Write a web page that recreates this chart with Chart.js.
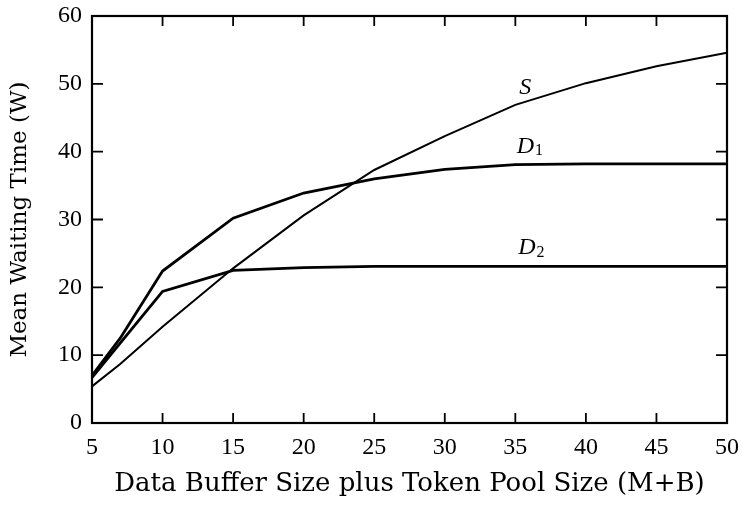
<!DOCTYPE html>
<html>
<head>
<meta charset="utf-8">
<script src="https://cdn.jsdelivr.net/npm/chart.js@4"></script>
<style>
  html, body { margin: 0; padding: 0; background: #fff; }
  #wrap { width: 742px; height: 508px; }
</style>
</head>
<body>
<div id="wrap"><canvas id="c" width="742" height="508"></canvas></div>
<script>
// ---- data ----
const sX  = [5, 7, 10, 15, 20, 25, 30, 35, 40, 45, 50];
const sY  = [5.4, 8.7, 14.2, 22.8, 30.6, 37.3, 42.3, 46.9, 50.1, 52.6, 54.6];
const d1X = [5, 7, 10, 15, 20, 25, 30, 35, 40, 45, 50];
const d1Y = [7.0, 12.5, 22.4, 30.2, 33.9, 36.0, 37.4, 38.1, 38.2, 38.2, 38.2];
const d2X = [5, 10, 15, 20, 25, 30, 35, 40, 45, 50];
const d2Y = [6.7, 19.4, 22.5, 22.9, 23.1, 23.1, 23.1, 23.1, 23.1, 23.1];
const xTicks = [5, 10, 15, 20, 25, 30, 35, 40, 45, 50];
const yTicks = [0, 10, 20, 30, 40, 50, 60];
const seriesNames = ["S", "D", "D"];
const seriesSubs  = ["", "1", "2"];
const labelX = [35.7, 36.0, 36.1];
const labelY = [49.4, 40.8, 25.8];
const xTitle = "Data Buffer Size plus Token Pool Size (M+B)";
const yTitle = "Mean Waiting Time (W)";

const pts = (xs, ys) => xs.map((x, i) => ({ x: x, y: ys[i] }));
const SERIF = "'Liberation Serif', serif";
const WIDE = "'DejaVu Serif', serif";

const framePlugin = {
  id: 'frame',
  afterDatasetsDraw(chart) {
    const ctx = chart.ctx;
    const a = chart.chartArea;
    const xs = chart.scales.x, ys = chart.scales.y;
    ctx.save();
    ctx.strokeStyle = '#000';
    ctx.lineWidth = 2.2;
    ctx.strokeRect(a.left, a.top, a.right - a.left, a.bottom - a.top);
    ctx.lineWidth = 1.8;
    ctx.beginPath();
    xTicks.forEach(v => {
      const px = xs.getPixelForValue(v);
      ctx.moveTo(px, a.bottom); ctx.lineTo(px, a.bottom - 10);
      ctx.moveTo(px, a.top); ctx.lineTo(px, a.top + 10);
    });
    yTicks.forEach(v => {
      const py = ys.getPixelForValue(v);
      ctx.moveTo(a.left, py); ctx.lineTo(a.left + 11, py);
      ctx.moveTo(a.right, py); ctx.lineTo(a.right - 11, py);
    });
    ctx.stroke();
    // series labels
    ctx.fillStyle = '#000';
    ctx.textBaseline = 'middle';
    seriesNames.forEach((n, i) => {
      const px = xs.getPixelForValue(labelX[i]);
      const py = ys.getPixelForValue(labelY[i]);
      ctx.font = "italic 24px " + SERIF;
      const w = ctx.measureText(n).width;
      let sw = 0;
      if (seriesSubs[i]) {
        ctx.font = "16px " + SERIF;
        sw = ctx.measureText(seriesSubs[i]).width;
      }
      const x0 = px - (w + sw) / 2;
      ctx.font = "italic 24px " + SERIF;
      ctx.textAlign = 'left';
      ctx.fillText(n, x0, py);
      if (seriesSubs[i]) {
        ctx.font = "16px " + SERIF;
        ctx.fillText(seriesSubs[i], x0 + w + 1, py + 5);
      }
    });
    ctx.restore();
  }
};

new Chart(document.getElementById('c'), {
  type: 'line',
  data: {
    datasets: [
      { label: 'S',  data: pts(sX, sY),  borderColor: '#000', borderWidth: 2.0, pointRadius: 0, tension: 0, fill: false },
      { label: 'D1', data: pts(d1X, d1Y), borderColor: '#000', borderWidth: 2.8, pointRadius: 0, tension: 0, fill: false },
      { label: 'D2', data: pts(d2X, d2Y), borderColor: '#000', borderWidth: 2.8, pointRadius: 0, tension: 0, fill: false }
    ]
  },
  options: {
    responsive: false,
    animation: false,
    devicePixelRatio: 1,
    layout: { padding: { top: 16, right: 15, left: 0, bottom: 0 } },
    plugins: { legend: { display: false }, tooltip: { enabled: false } },
    scales: {
      x: {
        type: 'linear', min: 5, max: 50,
        afterBuildTicks: s => { s.ticks = xTicks.map(v => ({ value: v })); },
        afterFit: s => { s.height = 85; s.paddingLeft = 0; s.paddingRight = 0; },
        grid: { display: false, drawTicks: false },
        border: { display: false },
        ticks: { color: '#000', padding: 10, maxRotation: 0, font: { family: SERIF, size: 24 } },
        title: { display: true, text: xTitle, color: '#000', font: { family: WIDE, size: 26 }, padding: { top: 0, bottom: 8 } }
      },
      y: {
        min: 0, max: 60,
        afterBuildTicks: s => { s.ticks = yTicks.map(v => ({ value: v })); },
        afterFit: s => { s.width = 92; s.paddingTop = 0; s.paddingBottom = 0; },
        grid: { display: false, drawTicks: false },
        border: { display: false },
        ticks: { color: '#000', padding: 10, font: { family: SERIF, size: 24 } },
        title: { display: true, text: yTitle, color: '#000', font: { family: WIDE, size: 23 }, padding: { top: 6, bottom: 0 } }
      }
    }
  },
  plugins: [framePlugin]
});
</script>
</body>
</html>
